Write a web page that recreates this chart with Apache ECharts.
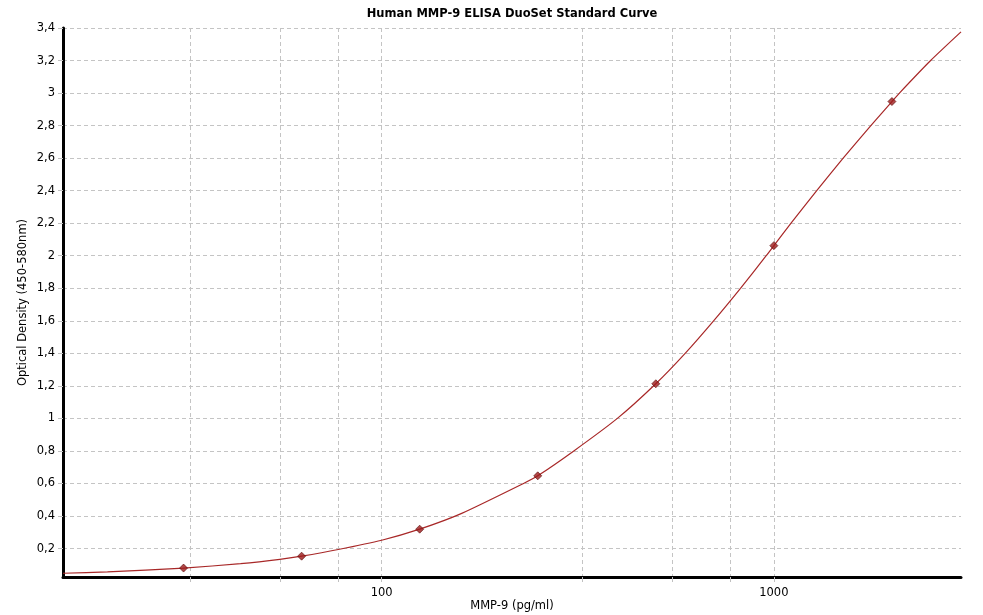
<!DOCTYPE html>
<html>
<head>
<meta charset="utf-8">
<script src="https://cdn.jsdelivr.net/npm/echarts@6/dist/echarts.min.js"></script>
<style>
html,body{margin:0;padding:0;background:#fff;}
#chart{width:983px;height:615px;}
</style>
</head>
<body>
<div id="chart"></div>
<script>
// Standards (pg/ml) and measured optical density
const stdConc = [31.25, 62.5, 125, 250, 500, 1000, 2000];
const stdOD   = [0.080, 0.153, 0.319, 0.647, 1.213, 2.062, 2.948];

// Fitted curve
const curveConc = [15.4, 20, 31.25, 43.7, 55, 62.5, 77.5, 100, 125, 160, 230, 250, 309, 399, 500, 594, 702, 822, 956, 1000, 1106, 1286, 1502, 1767, 2000, 2090, 2510, 3000];
const curveOD   = [0.048, 0.057, 0.080, 0.107, 0.133, 0.153, 0.194, 0.251, 0.319, 0.416, 0.60, 0.647, 0.80, 1.0, 1.213, 1.4, 1.6, 1.8, 2.0, 2.062, 2.2, 2.4, 2.6, 2.8, 2.948, 3.0, 3.2, 3.376];

// Axis ticks
const xGridTicks  = [32.5, 55, 77.5, 100, 325, 550, 775, 1000];
const xTickLabels = [100, 1000];
const yTicks = [0.2, 0.4, 0.6, 0.8, 1, 1.2, 1.4, 1.6, 1.8, 2, 2.2, 2.4, 2.6, 2.8, 3, 3.2, 3.4];

const FONT = 'DejaVu Sans';
const chart = echarts.init(document.getElementById('chart'), null, {renderer: 'canvas'});

chart.setOption({
  animation: false,
  backgroundColor: '#ffffff',
  title: {
    text: 'Human MMP-9 ELISA DuoSet Standard Curve',
    left: 507,
    textAlign: 'center',
    top: 3,
    textStyle: {fontFamily: FONT, fontSize: 11.5, fontWeight: 'bold', color: '#000'}
  },
  grid: {left: 63, right: 22, top: 28, bottom: 38, containLabel: false, outerBoundsMode: 'none'},
  xAxis: {
    type: 'log',
    min: 15.4,
    max: 3000,
    name: 'MMP-9 (pg/ml)',
    nameLocation: 'middle',
    nameGap: 23,
    nameMoveOverlap: false,
    nameTextStyle: {fontFamily: FONT, fontSize: 11.5, color: '#000'},
    axisLine: {show: true, onZero: false, lineStyle: {color: '#000', width: 3}},
    axisTick: {show: true, length: 5, customValues: xGridTicks, lineStyle: {color: '#c0c0c0', width: 1}},
    axisLabel: {
      customValues: xTickLabels, fontFamily: FONT, fontSize: 11.5, color: '#000', margin: 10,
      formatter: function (v) { return String(v); }
    },
    splitLine: {show: true, lineStyle: {color: '#c4c4c4', type: [4, 3], width: 1}},
    minorTick: {show: false},
    minorSplitLine: {show: false}
  },
  yAxis: {
    type: 'value',
    min: 0.025,
    max: 3.4,
    name: 'Optical Density (450-580nm)',
    nameLocation: 'middle',
    nameGap: 34,
    nameMoveOverlap: false,
    nameTextStyle: {fontFamily: FONT, fontSize: 11.5, color: '#000'},
    axisLine: {show: true, onZero: false, lineStyle: {color: '#000', width: 3}},
    axisTick: {show: true, length: 5, customValues: yTicks, lineStyle: {color: '#c0c0c0', width: 1}},
    axisLabel: {
      customValues: yTicks,
      fontFamily: FONT, fontSize: 11.5, color: '#000', margin: 8,
      formatter: function (v) { return String(Math.round(v * 1000) / 1000).replace('.', ','); }
    },
    splitLine: {show: true, lineStyle: {color: '#c4c4c4', type: [4, 3], width: 1}}
  },
  series: [
    {
      type: 'line',
      data: curveConc.map((c, i) => [c, curveOD[i]]),
      smooth: 0.2,
      showSymbol: false,
      symbol: 'none',
      lineStyle: {color: '#a82828', width: 1.2},
      silent: true,
      z: 3
    },
    {
      type: 'scatter',
      data: stdConc.map((c, i) => [c, stdOD[i]]),
      symbol: 'diamond',
      symbolSize: 8,
      itemStyle: {color: '#9c1c1c', borderColor: '#5a0a0a', borderWidth: 0.8},
      z: 4
    }
  ]
});
</script>
</body>
</html>
